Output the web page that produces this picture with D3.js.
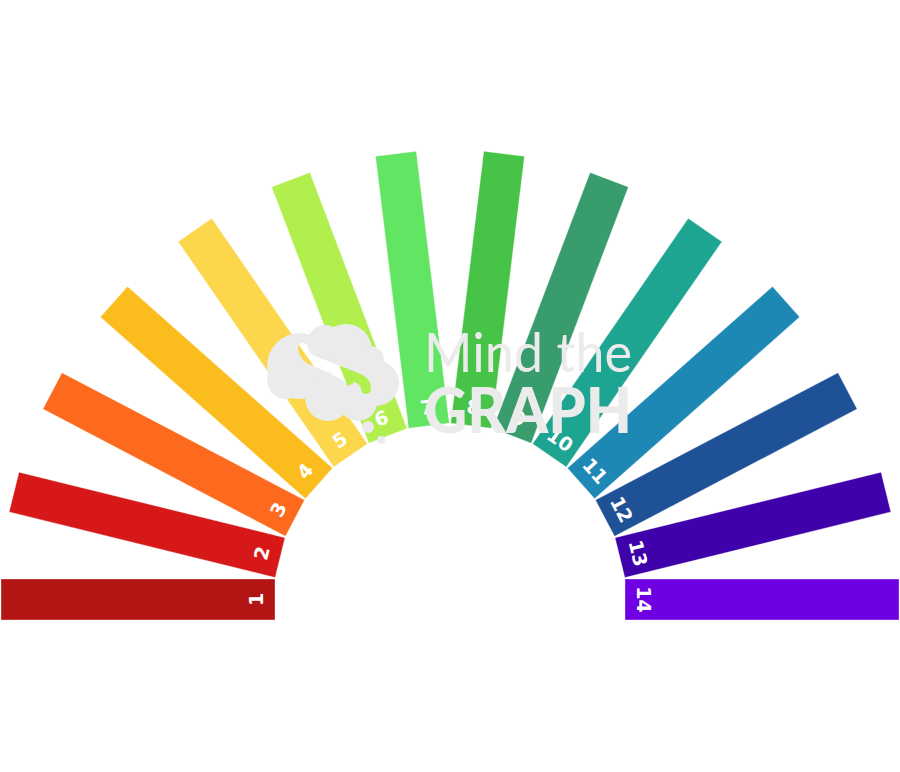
<!DOCTYPE html>
<html>
<head>
<meta charset="utf-8">
<script src="https://cdn.jsdelivr.net/npm/d3@7/dist/d3.min.js"></script>
<style>
  html, body { margin: 0; padding: 0; background: #ffffff; }
  svg { display: block; }
</style>
</head>
<body>
<svg id="chart" width="900" height="772"></svg>
<script>
// ---- data ----
const categories = ["1","2","3","4","5","6","7","8","9","10","11","12","13","14"];
const values = [100,100,100,100,100,100,100,100,100,100,100,100,100,100];
const colors = ["#B31414","#D71818","#FD6A1E","#FBBC1E","#FCD64B","#B0EF4E","#62E563",
                "#47C347","#389C6D","#1EA592","#1E88B5","#1F5197","#3F02AA","#6F00E2"];
const watermarkTop = "Mind the";
const watermarkBottom = "GRAPH";

// ---- layout ----
const W = 900, H = 772;
const cx = 450, cy = 599.5;
const innerR = 175, outerR = 449;
const barW = 41;

const svg = d3.select("#chart");

const angle = d3.scalePoint().domain(categories).range([180, 0]);
const radius = d3.scaleLinear().domain([0, d3.max(values)]).range([innerR, outerR]);
const color = d3.scaleOrdinal().domain(categories).range(colors);

const data = categories.map((c, i) => ({ cat: c, value: values[i] }));

const bars = svg.append("g").attr("transform", `translate(${cx},${cy})`);

const g = bars.selectAll("g.bar").data(data).join("g")
  .attr("class", "bar")
  .attr("transform", d => `rotate(${-angle(d.cat)})`);

g.append("rect")
  .attr("x", innerR)
  .attr("y", -barW / 2)
  .attr("width", d => radius(d.value) - innerR)
  .attr("height", barW)
  .attr("fill", d => color(d.cat))
  .attr("stroke", "#ffffff")
  .attr("stroke-opacity", 0.35)
  .attr("stroke-width", 1);

g.append("text")
  .attr("transform", `translate(194,0) rotate(90)`)
  .attr("text-anchor", "middle")
  .attr("dominant-baseline", "central")
  .attr("fill", "#ffffff")
  .attr("font-family", "DejaVu Sans, sans-serif")
  .attr("font-weight", "bold")
  .attr("font-size", 19)
  .text(d => d.cat);

// ---- watermark ----
const wm = svg.append("g").attr("fill", "#ebebeb");

const defs = svg.append("defs");
const mask = defs.append("mask").attr("id", "brainMask");
mask.append("rect").attr("x", 0).attr("y", 0).attr("width", W).attr("height", H).attr("fill", "#fff");
mask.append("path")
  .attr("d", "M303,348 Q305,358 314,361 L357,378 Q366,381 366,389")
  .attr("fill", "none").attr("stroke", "#000").attr("stroke-width", 10).attr("stroke-linecap", "round");

const brain = wm.append("g").attr("mask", "url(#brainMask)");
[[300,366,33],[346,350,26],[325,342,17],[376,383,23],[328,398,23],[358,402,19],[286,380,19],[370,360,14]]
  .forEach(([x,y,r]) => brain.append("circle").attr("cx", x).attr("cy", y).attr("r", r));
wm.append("circle").attr("cx", 368).attr("cy", 427).attr("r", 6);
wm.append("circle").attr("cx", 381).attr("cy", 440).attr("r", 4);

wm.append("text")
  .attr("x", 424).attr("y", 372)
  .attr("font-family", "Lato, sans-serif")
  .attr("font-weight", 400)
  .attr("font-size", 54)
  .attr("textLength", 208).attr("lengthAdjust", "spacingAndGlyphs")
  .text(watermarkTop);

wm.append("text")
  .attr("x", 424).attr("y", 433)
  .attr("font-family", "Lato, sans-serif")
  .attr("font-weight", 900)
  .attr("font-size", 62)
  .attr("textLength", 208).attr("lengthAdjust", "spacingAndGlyphs")
  .text(watermarkBottom);
</script>
</body>
</html>
